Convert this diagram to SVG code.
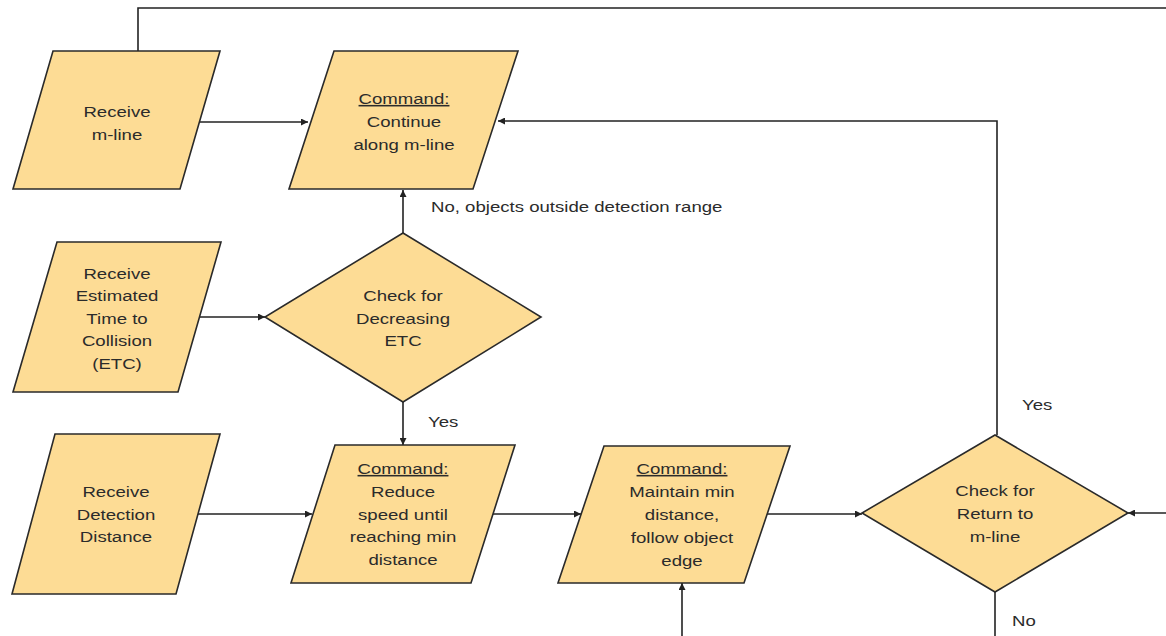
<svg xmlns="http://www.w3.org/2000/svg" width="1166" height="636" viewBox="0 0 1166 636">
  <style>
    .shape { fill: #fddc95; stroke: #2a2a2a; stroke-width: 1.6; stroke-linejoin: miter; }
    .wire { fill: none; stroke: #222; stroke-width: 1.6; }
    .arrow { marker-end: url(#head); }
    text { font-family: "Liberation Sans", Arial, sans-serif; font-size: 15.5px; fill: #2b2b2b; }
    .c { text-anchor: middle; }
    .u { text-decoration: underline; }
  </style>
  <defs>
    <marker id="head" viewBox="0 0 10 10" refX="10" refY="5" markerWidth="8" markerHeight="7" markerUnits="userSpaceOnUse" orient="auto">
      <path d="M0,0 L10,5 L0,10 z" fill="#222"/>
    </marker>
  </defs>

  <rect width="1166" height="636" fill="#ffffff"/>

  <!-- connectors -->
  <g id="connectors">
    <path class="wire" d="M138 51 V8 H1166"/>
    <path class="wire arrow" d="M200 122 H308"/>
    <path class="wire arrow" d="M997 435 V121 H498"/>
    <path class="wire arrow" d="M403 233 V190"/>
    <path class="wire arrow" d="M200 317 H265"/>
    <path class="wire arrow" d="M403 402 V445"/>
    <path class="wire arrow" d="M197 514 H312"/>
    <path class="wire arrow" d="M493 514 H581"/>
    <path class="wire arrow" d="M767 514 H862"/>
    <path class="wire arrow" d="M1166 513 H1128"/>
    <path class="wire" d="M995 592 V636"/>
    <path class="wire arrow" d="M682 636 V583"/>
  </g>

  <!-- connector labels -->
  <g id="labels">
    <text transform="translate(431 212) scale(1.2 1)">No, objects outside detection range</text>
    <text transform="translate(428 427) scale(1.2 1)">Yes</text>
    <text transform="translate(1022 410) scale(1.2 1)">Yes</text>
    <text transform="translate(1012 626) scale(1.2 1)">No</text>
  </g>

  <g id="receive-mline">
    <polygon class="shape" points="53,51 220,51 180,189 13,189"/>
    <text class="c" transform="translate(117 117) scale(1.2 1)">Receive</text>
    <text class="c" transform="translate(117 140) scale(1.2 1)">m-line</text>
  </g>

  <g id="continue-mline">
    <polygon class="shape" points="334,51 518,51 473,189 289,189"/>
    <text class="c u" transform="translate(404 104) scale(1.2 1)">Command:</text>
    <text class="c" transform="translate(404 127) scale(1.2 1)">Continue</text>
    <text class="c" transform="translate(404 150) scale(1.2 1)">along m-line</text>
  </g>

  <g id="receive-etc">
    <polygon class="shape" points="57,242 221,242 178,392 13,392"/>
    <text class="c" transform="translate(117 279) scale(1.2 1)">Receive</text>
    <text class="c" transform="translate(117 301) scale(1.2 1)">Estimated</text>
    <text class="c" transform="translate(117 324) scale(1.2 1)">Time to</text>
    <text class="c" transform="translate(117 346) scale(1.2 1)">Collision</text>
    <text class="c" transform="translate(117 369) scale(1.2 1)">(ETC)</text>
  </g>

  <g id="check-etc">
    <polygon class="shape" points="403,233 541,317 403,402 265,317"/>
    <text class="c" transform="translate(403 301) scale(1.2 1)">Check for</text>
    <text class="c" transform="translate(403 324) scale(1.2 1)">Decreasing</text>
    <text class="c" transform="translate(403 346) scale(1.2 1)">ETC</text>
  </g>

  <g id="receive-distance">
    <polygon class="shape" points="55,434 220,434 176,594 12,594"/>
    <text class="c" transform="translate(116 497) scale(1.2 1)">Receive</text>
    <text class="c" transform="translate(116 520) scale(1.2 1)">Detection</text>
    <text class="c" transform="translate(116 542) scale(1.2 1)">Distance</text>
  </g>

  <g id="reduce-speed">
    <polygon class="shape" points="335,445 515,445 471,583 291,583"/>
    <text class="c u" transform="translate(403 474) scale(1.2 1)">Command:</text>
    <text class="c" transform="translate(403 497) scale(1.2 1)">Reduce</text>
    <text class="c" transform="translate(403 520) scale(1.2 1)">speed until</text>
    <text class="c" transform="translate(403 542) scale(1.2 1)">reaching min</text>
    <text class="c" transform="translate(403 565) scale(1.2 1)">distance</text>
  </g>

  <g id="follow-edge">
    <polygon class="shape" points="604,446 790,446 744,583 558,583"/>
    <text class="c u" transform="translate(682 474) scale(1.2 1)">Command:</text>
    <text class="c" transform="translate(682 497) scale(1.2 1)">Maintain min</text>
    <text class="c" transform="translate(682 520) scale(1.2 1)">distance,</text>
    <text class="c" transform="translate(682 543) scale(1.2 1)">follow object</text>
    <text class="c" transform="translate(682 566) scale(1.2 1)">edge</text>
  </g>

  <g id="check-return">
    <polygon class="shape" points="995,435 1128,513 995,592 862,513"/>
    <text class="c" transform="translate(995 496) scale(1.2 1)">Check for</text>
    <text class="c" transform="translate(995 519) scale(1.2 1)">Return to</text>
    <text class="c" transform="translate(995 542) scale(1.2 1)">m-line</text>
  </g>
</svg>
